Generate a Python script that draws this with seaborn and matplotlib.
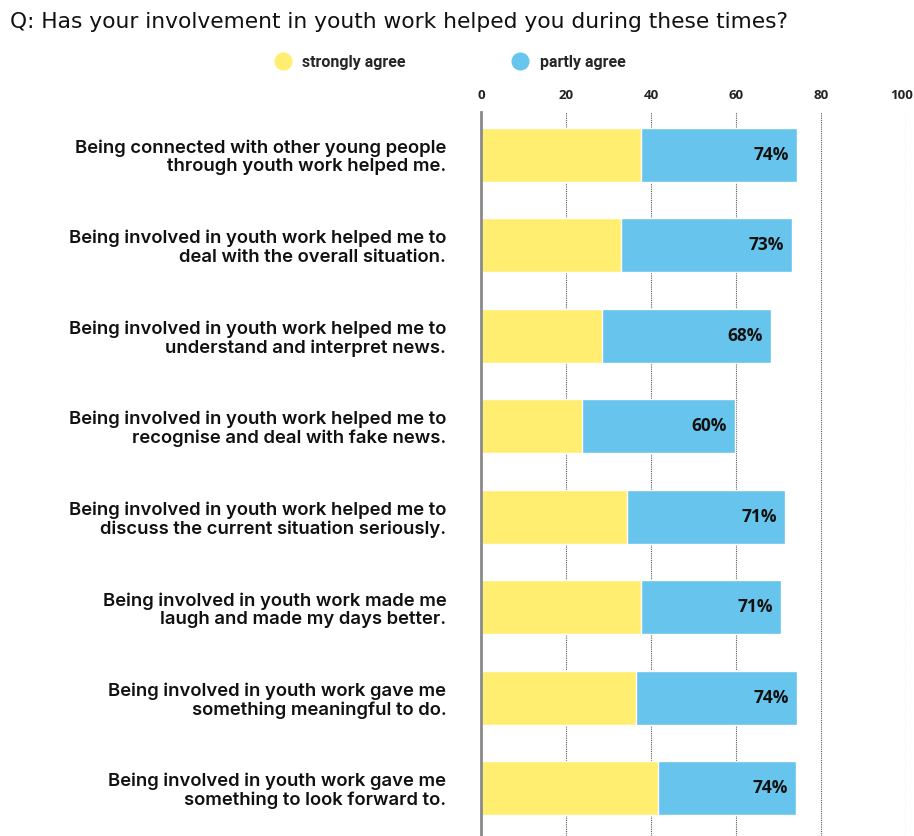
import matplotlib
matplotlib.use("Agg")
import matplotlib.pyplot as plt
from matplotlib.lines import Line2D
from matplotlib.transforms import ScaledTranslation
import seaborn as sns
import pandas as pd

categories = [
    "Being connected with other young people\nthrough youth work helped me.",
    "Being involved in youth work helped me to\ndeal with the overall situation.",
    "Being involved in youth work helped me to\nunderstand and interpret news.",
    "Being involved in youth work helped me to\nrecognise and deal with fake news.",
    "Being involved in youth work helped me to\ndiscuss the current situation seriously.",
    "Being involved in youth work made me\nlaugh and made my days better.",
    "Being involved in youth work gave me\nsomething meaningful to do.",
    "Being involved in youth work gave me\nsomething to look forward to.",
]
strongly_agree = [37.6, 32.9, 28.5, 23.8, 34.4, 37.6, 36.4, 41.7]
total_agree = [74.3, 73.1, 68.2, 59.8, 71.6, 70.7, 74.4, 74.0]
total_labels = [74, 73, 68, 60, 71, 71, 74, 74]
xticks = [0, 20, 40, 60, 80, 100]

title = "Q: Has your involvement in youth work helped you during these times?"
series_names = ["strongly agree", "partly agree"]

YELLOW = "#FFEE70"
BLUE = "#67C4EC"

df = pd.DataFrame({"cat": categories, "strong": strongly_agree, "total": total_agree})

sns.set_theme(style="white")
plt.rcParams["font.family"] = ["Open Sans", "DejaVu Sans"]

fig = plt.figure(figsize=(9.14, 8.36), dpi=100)
ax = fig.add_axes([481 / 914, 0.0, (906 - 481) / 914, 1 - 112 / 836])

sns.barplot(data=df, x="total", y="cat", color=BLUE, orient="h", width=0.6,
            ax=ax, saturation=1, zorder=2)
sns.barplot(data=df, x="strong", y="cat", color=YELLOW, orient="h", width=0.6,
            ax=ax, saturation=1, zorder=3)

for i, (t, lab) in enumerate(zip(total_agree, total_labels)):
    ax.text(t - 1.9, i, f"{lab}%", ha="right", va="center", fontsize=12.5,
            fontweight="bold", color="#111111", zorder=5)

ax.set_xlim(0, 100)
ax.set_ylim(7 + 0.527, -0.472)
ax.set_xlabel("")
ax.set_ylabel("")
ax.xaxis.tick_top()
ax.set_xticks(xticks)
ax.set_xticklabels([str(v) for v in xticks], fontsize=9.5, fontweight="bold", color="#222222")
ax.tick_params(axis="x", length=0, pad=7)
ax.tick_params(axis="y", length=0, pad=25)
xl = ax.get_xticklabels()
xl[-1].set_transform(xl[-1].get_transform() + ScaledTranslation(-4 / 100, 0, fig.dpi_scale_trans))
for lab in ax.get_yticklabels():
    lab.set_fontsize(13.3)
    lab.set_fontweight(600)
    lab.set_family(["Inter", "DejaVu Sans"])
    lab.set_color("#111111")
    lab.set_ha("right")
    lab.set_multialignment("right")
    lab.set_linespacing(1.1)

for x in xticks[1:]:
    ax.axvline(x, color="#555555", lw=0.8, ls=(0, (1, 1)), zorder=1)

for s in ["top", "right", "bottom"]:
    ax.spines[s].set_visible(False)
ax.spines["left"].set_color("#8a8a8a")
ax.spines["left"].set_linewidth(2)
ax.spines["left"].set_zorder(6)

fig.text(10 / 914, 1 - 22 / 836, title, ha="left", va="center", fontsize=15.7,
         fontweight="normal", color="#111111", family=["DejaVu Sans"])

handles = [Line2D([0], [0], marker="o", ls="", markersize=12, markerfacecolor=c,
                  markeredgecolor=c) for c in (YELLOW, BLUE)]
leg = fig.legend(handles, series_names, loc="center", ncol=2,
                 bbox_to_anchor=(450 / 914, 1 - 62 / 836), frameon=False,
                 columnspacing=6.7, handletextpad=0.7, handlelength=1.0,
                 prop={"family": ["Roboto", "DejaVu Sans"], "weight": "bold", "size": 11.5})

fig.savefig("out.png", dpi=100)
